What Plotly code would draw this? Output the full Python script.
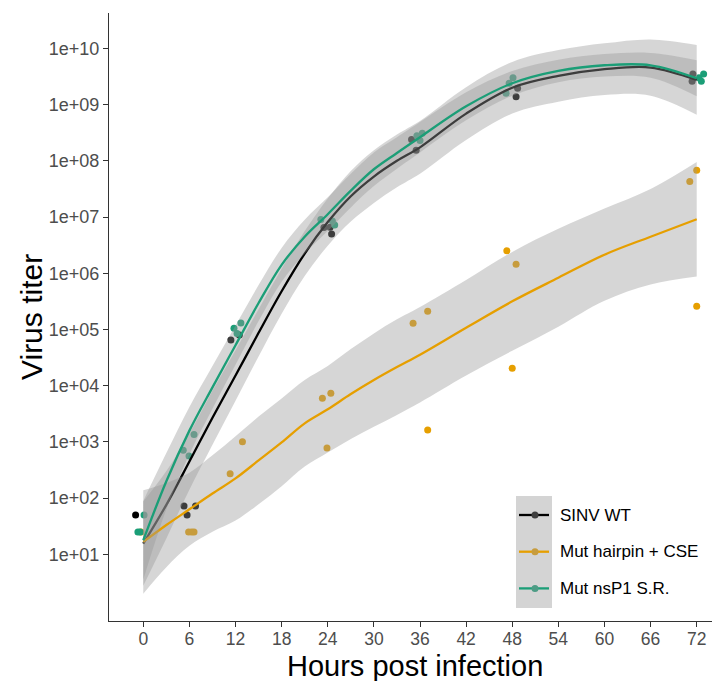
import numpy as np
import plotly.graph_objects as go

# ---------------- observed points (hours as plotted with jitter, titer) -------------
wt_hours = [-1.0, 5.3, 6.8, 5.7, 11.4, 12.5, 23.5, 24.3, 24.5, 34.9, 35.5, 48.5, 48.7, 71.5, 71.4]
wt_titer = [50, 72, 72, 50, 6.5e4, 8.0e4, 6.5e6, 6.6e6, 5.0e6, 2.4e8, 1.55e8, 1.38e9, 1.95e9, 3.5e9, 2.6e9]

hp_hours = [-0.3, 5.9, 6.3, 6.6, 11.3, 12.9, 23.3, 24.4, 23.9, 35.1, 37.0, 37.0, 47.3, 48.5, 48.0, 72.0, 71.1, 72.0]
hp_titer = [25, 25, 25, 25, 270, 1000, 6000, 7300, 780, 1.29e5, 2.1e5, 1620, 2.5e6, 1.45e6, 2.05e4, 6.8e7, 4.3e7, 2.6e5]

ns_hours = [0.1, -0.7, -0.4, 6.6, 5.2, 5.95, 11.8, 12.7, 12.2, 23.1, 24.6, 24.9, 36.0, 36.3, 35.6, 48.1, 47.6, 47.2, 72.9, 72.6, 72.3]
ns_titer = [50, 25, 25, 1350, 710, 560, 1.05e5, 1.3e5, 8.5e4, 9.0e6, 8.5e6, 7.2e6, 2.3e8, 3.1e8, 2.8e8, 3.0e9, 2.4e9, 1.6e9, 3.5e9, 2.6e9, 3.0e9]

# ---------------- smoothed fits (log10 titer) ----------------
fit_hours = [0, 3, 6, 9, 12, 15, 18, 21, 24, 27, 30, 33, 36, 42, 48, 54, 60, 66, 72]
wt_fit = [1.19, 1.88, 2.65, 3.43, 4.18, 4.94, 5.68, 6.35, 6.91, 7.37, 7.72, 8.0, 8.24, 8.84, 9.30, 9.51, 9.63, 9.66, 9.44]
wt_hw = [0.75, 0.60, 0.50, 0.48, 0.45, 0.42, 0.40, 0.40, 0.42, 0.45, 0.47, 0.47, 0.47, 0.47, 0.46, 0.46, 0.46, 0.50, 0.62]
hp_fit = [1.22, 1.52, 1.80, 2.08, 2.35, 2.67, 2.99, 3.33, 3.58, 3.85, 4.10, 4.33, 4.55, 5.03, 5.50, 5.92, 6.33, 6.65, 6.96]
hp_hw = [0.92, 0.75, 0.65, 0.68, 0.75, 0.78, 0.78, 0.77, 0.77, 0.80, 0.83, 0.85, 0.85, 0.85, 0.88, 0.87, 0.82, 0.85, 1.02]
ns_fit = [1.25, 2.30, 3.20, 3.97, 4.72, 5.47, 6.15, 6.65, 7.05, 7.47, 7.85, 8.14, 8.42, 8.97, 9.38, 9.60, 9.70, 9.70, 9.47]
ns_hw = [0.70, 0.50, 0.42, 0.38, 0.35, 0.32, 0.30, 0.30, 0.30, 0.30, 0.30, 0.28, 0.27, 0.25, 0.22, 0.20, 0.20, 0.22, 0.32]

series_names = ["SINV WT", "Mut hairpin + CSE", "Mut nsP1 S.R."]
x_ticks = [0, 6, 12, 18, 24, 30, 36, 42, 48, 54, 60, 66, 72]
y_tick_vals = [1e1, 1e2, 1e3, 1e4, 1e5, 1e6, 1e7, 1e8, 1e9, 1e10]
y_tick_text = ["1e+01", "1e+02", "1e+03", "1e+04", "1e+05", "1e+06", "1e+07", "1e+08", "1e+09", "1e+10"]
x_title = "Hours post infection"
y_title = "Virus titer"

colors = ["#000000", "#E69F00", "#1B9E77"]
key_dot = ["#3d3d3d", "#c79c3d", "#4d9c85"]
RIB = "rgba(153,153,153,0.4)"

fig = go.Figure()

# points first (ribbons drawn over them, as in the original)
for h, v, c in [(wt_hours, wt_titer, colors[0]), (hp_hours, hp_titer, colors[1]), (ns_hours, ns_titer, colors[2])]:
    fig.add_trace(go.Scatter(x=h, y=v, mode="markers", showlegend=False,
                             marker=dict(color=c, size=7, line=dict(width=0)), hoverinfo="skip"))

# smooth fits: ribbon then line, per group
for fit, hw, c in [(wt_fit, wt_hw, colors[0]), (hp_fit, hp_hw, colors[1]), (ns_fit, ns_hw, colors[2])]:
    f = np.array(fit)
    w = np.array(hw)
    lo = 10 ** (f - w)
    up = 10 ** (f + w)
    fig.add_trace(go.Scatter(x=fit_hours, y=lo, mode="lines", line=dict(width=0, shape="spline"),
                             showlegend=False, hoverinfo="skip"))
    fig.add_trace(go.Scatter(x=fit_hours, y=up, mode="lines", line=dict(width=0, shape="spline"),
                             fill="tonexty", fillcolor=RIB, showlegend=False, hoverinfo="skip"))
    fig.add_trace(go.Scatter(x=fit_hours, y=10 ** f, mode="lines",
                             line=dict(color=c, width=2.3, shape="spline"), showlegend=False))

# ---------------- layout geometry (page pixels; page has an 8px body margin) ----------------
OFF = 8
W, H = 720 - OFF, 681 - OFF
L, R, T, B = 109 - OFF, 720 - OFF, 13 - OFF, 621 - OFF

def px(x):
    return (x - OFF - L) / (R - L)
def py(y):
    return (B - (y - OFF)) / (B - T)

shapes = [dict(type="rect", xref="paper", yref="paper", x0=px(516), x1=px(552), y0=py(608), y1=py(496),
               fillcolor="#d4d4d4", line=dict(width=0), layer="above")]
annotations = []
for i, (name, c) in enumerate(zip(series_names, colors)):
    yc = 515 + i * 36.7
    shapes.append(dict(type="line", xref="paper", yref="paper", x0=px(519), x1=px(549), y0=py(yc), y1=py(yc),
                       line=dict(color=c, width=2.3), layer="above"))
    shapes.append(dict(type="circle", xref="paper", yref="paper", x0=px(531.5), x1=px(538.5),
                       y0=py(yc + 3.5), y1=py(yc - 3.5), fillcolor=key_dot[i], line=dict(width=0), layer="above"))
    annotations.append(dict(text=name, xref="paper", yref="paper", x=px(558), y=py(yc), xanchor="left",
                            yanchor="middle", showarrow=False, font=dict(size=17, color="#000000")))

annotations.append(dict(text=x_title, xref="paper", yref="paper", x=0.5, y=py(666), xanchor="center",
                        yanchor="middle", showarrow=False, font=dict(size=29, color="#000000")))
annotations.append(dict(text=y_title, xref="paper", yref="paper", x=px(31), y=0.5, xanchor="center",
                        yanchor="middle", textangle=-90, showarrow=False, font=dict(size=30, color="#000000")))

fig.update_layout(
    width=W, height=H,
    margin=dict(l=L, r=W - R, t=T, b=H - B, pad=0),
    paper_bgcolor="white", plot_bgcolor="white",
    font=dict(family="Liberation Sans, Arial, sans-serif"),
    showlegend=False,
    shapes=shapes, annotations=annotations,
    xaxis=dict(range=[-4.46, 75.03], tickmode="array", tickvals=x_ticks, automargin=False,
               ticks="outside", ticklen=5, tickwidth=1.1, tickcolor="#333333",
               showline=True, linecolor="#333333", linewidth=1.3, showgrid=False, zeroline=False,
               ticklabelstandoff=-3,
               tickfont=dict(size=17.5, color="#4d4d4d")),
    yaxis=dict(type="log", range=[-0.187, 10.63], tickmode="array", tickvals=y_tick_vals, ticktext=y_tick_text,
               automargin=False,
               ticks="outside", ticklen=5, tickwidth=1.1, tickcolor="#333333",
               showline=True, linecolor="#333333", linewidth=1.3, showgrid=False, zeroline=False,
               tickfont=dict(size=18, color="#4d4d4d")),
)

fig.write_html("out.html")
